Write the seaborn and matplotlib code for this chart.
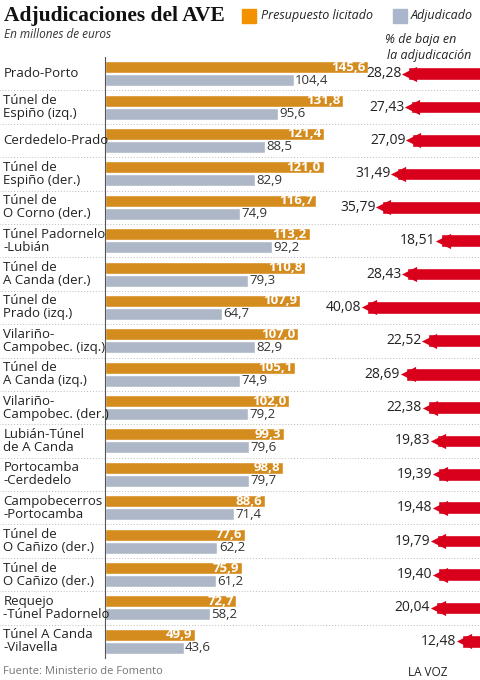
import pandas as pd
import matplotlib
matplotlib.use('Agg')
import matplotlib.pyplot as plt
from matplotlib.patches import Rectangle
import seaborn as sns

tramos = ['Prado-Porto', 'Túnel de\nEspiño (izq.)', 'Cerdedelo-Prado', 'Túnel de\nEspiño (der.)',
          'Túnel de\nO Corno (der.)', 'Túnel Padornelo\n-Lubián', 'Túnel de\nA Canda (der.)',
          'Túnel de\nPrado (izq.)', 'Vilariño-\nCampobec. (izq.)', 'Túnel de\nA Canda (izq.)',
          'Vilariño-\nCampobec. (der.)', 'Lubián-Túnel\nde A Canda', 'Portocamba\n-Cerdedelo',
          'Campobecerros\n-Portocamba', 'Túnel de\nO Cañizo (der.)', 'Túnel de\nO Cañizo (der.)',
          'Requejo\n-Túnel Padornelo', 'Túnel A Canda\n-Vilavella']
presupuesto = [145.6, 131.8, 121.4, 121.0, 116.7, 113.2, 110.8, 107.9, 107.0, 105.1,
               102.0, 99.3, 98.8, 88.6, 77.6, 75.9, 72.7, 49.9]
adjudicado = [104.4, 95.6, 88.5, 82.9, 74.9, 92.2, 79.3, 64.7, 82.9, 74.9,
              79.2, 79.6, 79.7, 71.4, 62.2, 61.2, 58.2, 43.6]
baja = [28.28, 27.43, 27.09, 31.49, 35.79, 18.51, 28.43, 40.08, 22.52, 28.69,
        22.38, 19.83, 19.39, 19.48, 19.79, 19.40, 20.04, 12.48]

ORANGE = '#f39200'
GREY = '#a9b6cb'
RED = '#d8001a'

rows = [f'r{i}' for i in range(len(tramos))]
df = pd.DataFrame({'row': rows * 2,
                   'valor': presupuesto + adjudicado,
                   'serie': ['Presupuesto licitado'] * len(rows) + ['Adjudicado'] * len(rows)})

sns.set_style('white')
plt.rcParams['font.family'] = ['Open Sans', 'DejaVu Sans']
W, H = 480, 680
fig = plt.figure(figsize=(4.8, 6.8), dpi=100)

top, bot = 57, 658
ax = fig.add_axes([105 / W, 1 - bot / H, 271 / W, (bot - top) / H])
sns.barplot(data=df, y='row', x='valor', hue='serie', order=rows,
            palette=[ORANGE, GREY], width=0.78, gap=0.08, dodge=True,
            legend=False, ax=ax, orient='h')
ax.set_xlim(0, 150)
ax.set_ylim(len(rows) - 0.5, -0.5)
ax.set_xlabel(''); ax.set_ylabel('')
ax.set_xticks([]); ax.set_yticks([])
for s in ['top', 'right', 'bottom']:
    ax.spines[s].set_visible(False)
ax.spines['left'].set_color('#555555')
ax.spines['left'].set_linewidth(0.8)
ax.patch.set_alpha(0)

lbl = ax.bar_label(ax.containers[0], labels=[f'{v:.1f}'.replace('.', ',') for v in presupuesto],
                   padding=-2, color='white', fontweight='bold', fontsize=9.5)
for t in lbl:
    t.set_ha('right')
ax.bar_label(ax.containers[1], labels=[f'{v:.1f}'.replace('.', ',') for v in adjudicado],
             padding=1, color='#333333', fontsize=9.5)

for i, name in enumerate(tramos):
    ax.text(-0.375, i, name, transform=ax.get_yaxis_transform(), ha='left', va='center',
            fontsize=9.5, color='#222222', linespacing=1.0)
    if i < len(tramos) - 1:
        ax.axhline(i + 0.5, xmin=-0.39, xmax=1.42, color='#bbbbbb', lw=0.7, ls=(0, (1, 2)),
                   clip_on=False)

# arrows
ax2 = fig.add_axes([340 / W, 1 - bot / H, 160 / W, (bot - top) / H])
ax2.set_xlim(46.5, 0)
ax2.set_ylim(len(rows) - 0.5, -0.5)
ax2.axis('off')
ax2.barh(range(len(baja)), [b - 1.5 for b in baja], left=0, height=0.38, color=RED)
ax2.scatter([b - 1.9 for b in baja], range(len(baja)), marker='<', s=120, color=RED,
            linewidths=0)
for i, b in enumerate(baja):
    ax2.text(b + 0.3, i, f'{b:.2f}'.replace('.', ','), ha='right', va='center',
             fontsize=10, color='#222222')

# header
fig.text(4 / W, 1 - 16 / H, 'Adjudicaciones del AVE', fontsize=15.5, fontweight='bold',
         family='Liberation Serif', va='center', color='#111111')
fig.text(4 / W, 1 - 34 / H, 'En millones de euros', fontsize=8.5, style='italic',
         va='center', color='#333333')
fig.patches.append(Rectangle((242 / W, 1 - 23 / H), 14 / W, 14 / H, color=ORANGE,
                             transform=fig.transFigure))
fig.text(261 / W, 1 - 16 / H, 'Presupuesto licitado', fontsize=9, style='italic',
         va='center', color='#222222')
fig.patches.append(Rectangle((393 / W, 1 - 23 / H), 14 / W, 14 / H, color=GREY,
                             transform=fig.transFigure))
fig.text(411 / W, 1 - 16 / H, 'Adjudicado', fontsize=9, style='italic',
         va='center', color='#222222')
fig.text(385 / W, 1 - 39 / H, '% de baja en', fontsize=9, style='italic',
         va='center', color='#222222')
fig.text(387 / W, 1 - 55 / H, 'la adjudicación', fontsize=9, style='italic',
         va='center', color='#222222')

# footer
fig.text(3 / W, 1 - 672 / H, 'Fuente: Ministerio de Fomento', fontsize=8, color='#777777',
         va='center')
fig.text(408 / W, 1 - 672 / H, 'LA VOZ', fontsize=8.5, color='#222222', va='center')

fig.savefig('out.png', dpi=100)
